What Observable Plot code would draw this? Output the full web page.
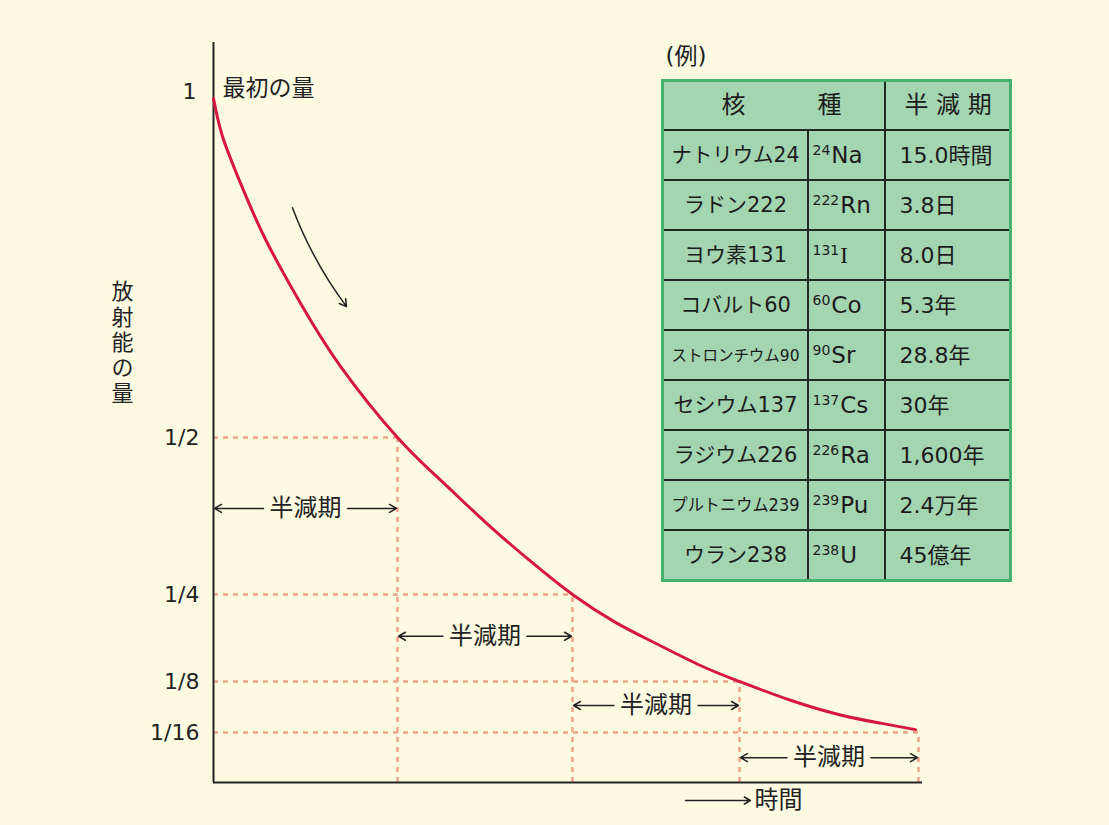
<!DOCTYPE html>
<html>
<head>
<meta charset="utf-8">
<script src="https://cdn.jsdelivr.net/npm/d3@7"></script>
<script src="https://cdn.jsdelivr.net/npm/@observablehq/plot@0.6"></script>
<style>
  html, body { margin: 0; padding: 0; background: #fdfae2; }
  #wrap { position: relative; width: 1109px; height: 825px; background: #fdfae2; overflow: hidden; }
</style>
</head>
<body>
<div id="wrap"></div>
<script>
// ---------- data ----------
const halfLifeCount = [1, 2, 3, 4];
const remainingFraction = [1/2, 1/4, 1/8, 1/16];
const yTickValues = [1, 1/2, 1/4, 1/8, 1/16];
const yTickLabels = ["1", "1/2", "1/4", "1/8", "1/16"];

// decay curve (time in half-lives, fraction remaining)
const curveTime   = [0, 0.049, 0.147, 0.283, 0.473, 0.690, 1,
                     1.246, 1.503, 1.760, 2,
                     2.257, 2.497, 2.766, 3,
                     3.285, 3.564, 3.788, 3.983];
const curveAmount = [1, 0.944, 0.875, 0.792, 0.698, 0.605, 0.5,
                     0.432, 0.365, 0.303, 0.25,
                     0.210, 0.180, 0.148, 0.125,
                     0.102, 0.084, 0.074, 0.066];

const nuclideNames   = ["ナトリウム24", "ラドン222", "ヨウ素131", "コバルト60", "ストロンチウム90",
                        "セシウム137", "ラジウム226", "プルトニウム239", "ウラン238"];
const massNumbers    = ["24", "222", "131", "60", "90", "137", "226", "239", "238"];
const elementSymbols = ["Na", "Rn", "I", "Co", "Sr", "Cs", "Ra", "Pu", "U"];
const halfLifeTexts  = ["15.0時間", "3.8日", "8.0日", "5.3年", "28.8年", "30年", "1,600年", "2.4万年", "45億年"];
const tableHeaders   = ["核　　　種", "半 減 期"];
const halfLifeLabel  = "半減期";

// ---------- styles ----------
const FONT = '"DejaVu Sans", "Noto Sans CJK JP", sans-serif';
const red = "#d6173f", guide = "#f0a38b", ink = "#222";

// ---------- main diagram ----------
const spans = halfLifeCount.map((t, i) => ({
  from: t - 1, to: t, mid: t - 0.5, level: [0.387, 0.190, 0.0956, 0.031][i]
}));

const main = Plot.plot({
  width: 1109, height: 825, margin: 0,
  style: {background: "transparent", fontFamily: FONT, color: ink, overflow: "visible"},
  x: {type: "linear", domain: [0, 1, 2, 3, 4, 4.02], range: [213, 397, 572, 739, 918, 922], axis: null},
  y: {type: "linear", domain: [0, 1/16, 1/8, 1/4, 1/2, 1, 1.083], range: [782, 732, 681, 594, 437, 98, 42], axis: null},
  marks: [
    // dotted guides
    Plot.ruleY(remainingFraction, {y: d => d, x1: 0, x2: (d, i) => halfLifeCount[i],
      stroke: guide, strokeWidth: 2.5, strokeDasharray: "5,5"}),
    Plot.ruleX(halfLifeCount, {x: d => d, y1: 0, y2: (d, i) => remainingFraction[i],
      stroke: guide, strokeWidth: 2.5, strokeDasharray: "5,5"}),
    // axes
    Plot.ruleX([0], {y1: 0, y2: 1.083, stroke: ink, strokeWidth: 2}),
    Plot.ruleY([0], {x1: 0, x2: 4.02, stroke: ink, strokeWidth: 2}),
    // decay curve
    Plot.line(curveTime, {x: d => d, y: (d, i) => curveAmount[i], stroke: red, strokeWidth: 3, curve: "natural"}),
    // tick labels
    Plot.text(yTickValues, {filter: d => d < 1, x: 0, y: d => d, text: (d, i) => yTickLabels[i],
      textAnchor: "end", dx: -14, fontSize: 22}),
    Plot.text(yTickValues, {filter: d => d === 1, x: 0, y: d => d, text: (d, i) => yTickLabels[i],
      textAnchor: "end", dx: -17, dy: -7, fontSize: 22}),
    // labels
    Plot.text(["最初の量"], {x: 0, y: 1, dx: 9, dy: -10, textAnchor: "start", fontSize: 23}),
    Plot.text(["放射能の量"], {x: 0, y: 0.641, dx: -91, text: d => d.split("").join("\n"),
      fontSize: 22, lineHeight: 1.15}),
    // curved arrow along the curve
    Plot.arrow([0], {x1: 0.429, y1: 0.839, x2: 0.723, y2: 0.693, bend: -8,
      stroke: ink, strokeWidth: 1.5, headLength: 8}),
    // half-life double arrows
    Plot.arrow(spans, {x1: "mid", y1: "level", x2: "from", y2: "level", insetStart: 42, insetEnd: 1,
      stroke: ink, strokeWidth: 1.5, headLength: 8}),
    Plot.arrow(spans, {x1: "mid", y1: "level", x2: "to", y2: "level", insetStart: 42, insetEnd: 1,
      stroke: ink, strokeWidth: 1.5, headLength: 8}),
    Plot.text(spans, {x: "mid", y: "level", text: () => halfLifeLabel, fontSize: 24}),
    // time axis label
    Plot.arrow([0], {x1: 2.677, x2: 3.061, y1: -0.0225, y2: -0.0225, stroke: ink, strokeWidth: 1.5, headLength: 7}),
    Plot.text(["時間"], {x: 3.061, y: -0.0225, dx: 4, textAnchor: "start", fontSize: 24})
  ]
});

// ---------- table ----------
const rowKeys = ["header", ...nuclideNames];
const cells = [{c0: 0, c1: 2, row: "header"}, {c0: 2, c1: 3, row: "header"}];
nuclideNames.forEach(n => { for (let c = 0; c < 3; c++) cells.push({c0: c, c1: c + 1, row: n}); });

const table = Plot.plot({
  width: 352, height: 552, marginLeft: 2, marginRight: 2, marginTop: 50, marginBottom: 2,
  style: {background: "transparent", fontFamily: FONT, color: "#1c1c1c", overflow: "visible"},
  x: {type: "linear", domain: [0, 1, 2, 3], range: [2, 148, 225, 350], axis: null},
  y: {type: "band", domain: rowKeys, range: [50, 550], padding: 0, axis: null},
  marks: [
    Plot.barX(cells, {x1: "c0", x2: "c1", y: "row", fill: "#a3d5b1", stroke: "#1f2a22", strokeWidth: 2}),
    Plot.frame({stroke: "#45b36d", strokeWidth: 3}),
    Plot.text(["(例)"], {frameAnchor: "top-left", dx: 3, dy: -33, textAnchor: "start", fontSize: 23}),
    Plot.text([tableHeaders[0]], {x: 1, y: () => "header", dx: -27, fontSize: 24}),
    Plot.text([tableHeaders[1]], {x: 2.5, y: () => "header", fontSize: 24}),
    Plot.text(nuclideNames, {x: 0.5, y: d => d, text: d => d, fontSize: 21}),
    Plot.text(nuclideNames, {x: 1, y: d => d, text: (d, i) => massNumbers[i] + elementSymbols[i],
      textAnchor: "start", dx: 4, fontSize: 23}),
    Plot.text(nuclideNames, {x: 2, y: d => d, text: (d, i) => halfLifeTexts[i],
      textAnchor: "start", dx: 14, fontSize: 22})
  ]
});

const wrap = document.getElementById("wrap");
main.style.position = "absolute"; main.style.left = "0px"; main.style.top = "0px";
table.style.position = "absolute"; table.style.left = "660px"; table.style.top = "30px";
wrap.append(main);
wrap.append(table);

// superscript mass numbers and condensed long names
const isoStrings = massNumbers.map((m, i) => m + elementSymbols[i]);
d3.select(table).selectAll("text").each(function() {
  const content = this.textContent;
  const j = isoStrings.indexOf(content);
  if (j >= 0) {
    const t = d3.select(this);
    t.text(null);
    t.append("tspan").attr("font-size", 14).attr("dy", -8).text(massNumbers[j]);
    const s = t.append("tspan").attr("dy", 8).attr("dx", 1).text(elementSymbols[j]);
    if (elementSymbols[j] === "I") s.attr("font-family", '"Liberation Serif", "DejaVu Serif", serif');
    return;
  }
  if (nuclideNames.includes(content)) {
    const w = this.getComputedTextLength();
    if (w > 128) {
      const size = 21 * Math.min(1, 134 / w);
      this.setAttribute("font-size", size.toFixed(2));
      this.setAttribute("textLength", 128);
      this.setAttribute("lengthAdjust", "spacingAndGlyphs");
    }
  }
});
</script>
</body>
</html>
